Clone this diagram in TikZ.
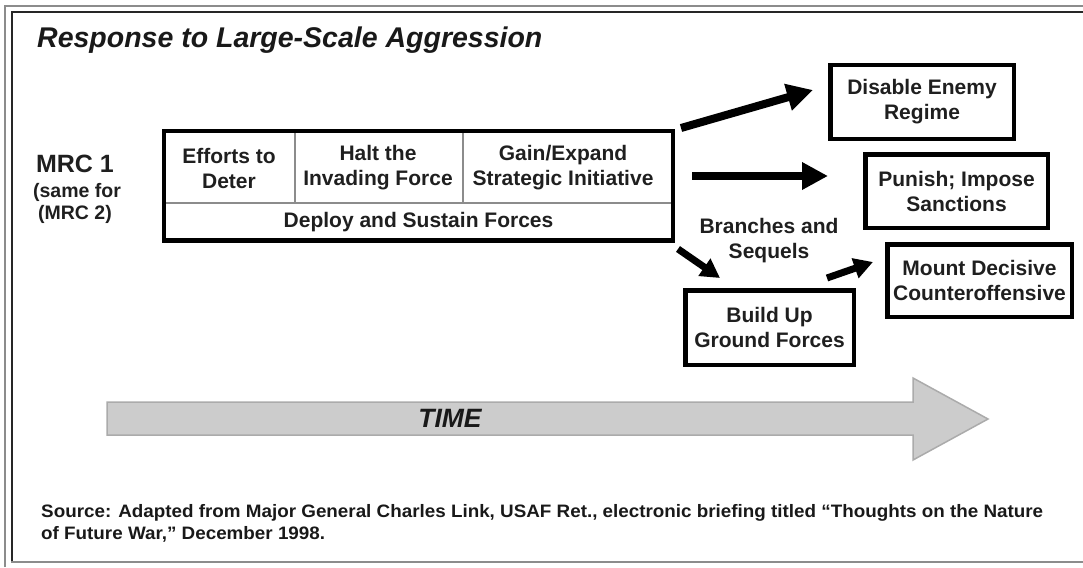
\documentclass[tikz,border=0pt]{standalone}
\usepackage{fontspec}
\setmainfont{Liberation Sans}
\usepackage{graphicx}
\usetikzlibrary{arrows.meta}
\begin{document}
\begin{tikzpicture}[x=1pt,y=-1pt,
  txt/.style={font=\fontsize{21}{25}\selectfont\bfseries, align=center, text=black!88, inner sep=0pt},
  boxnode/.style={draw=black, line width=4.5pt, inner sep=0pt, txt},
  divider/.style={draw=black!45, line width=1.6pt},
  bigarrow/.style={line width=8pt, -{Triangle[length=26pt,width=26pt]}},
  smallarrow/.style={line width=7pt, -{Triangle[length=19pt,width=20pt]}},
  framegray/.style={draw=black!45, line width=2pt},
  frameblack/.style={draw=black!85, line width=2pt}]
\useasboundingbox (0,0) rectangle (1083,567);
% frame
\draw[framegray] (5,567) -- (5,6) -- (1083,6);
\draw[frameblack] (12,562) -- (12,12.5) -- (1083,12.5);
\draw[framegray] (11,562) -- (1083,562);
% title
\node[anchor=base west, inner sep=0pt, text=black!90, font=\fontsize{28.5}{31}\selectfont\bfseries\itshape] (title) at (37,48) {Response to Large-Scale Aggression};
% MRC label
\node[anchor=base, inner sep=0pt, text=black!88, font=\fontsize{25}{28}\selectfont\bfseries] (mrcA) at (75,172) {MRC 1};
\node[anchor=base, inner sep=0pt, text=black!88, font=\fontsize{19.5}{22}\selectfont\bfseries] (mrcB) at (77,197) {(same for};
\node[anchor=base, inner sep=0pt, text=black!88, font=\fontsize{19.5}{22}\selectfont\bfseries] (mrcC) at (75,219) {(MRC 2)};
% main box
\draw[divider] (164,203) -- (673,203);
\draw[divider] (295,131) -- (295,203);
\draw[divider] (463,131) -- (463,203);
\node[draw=black, line width=4.5pt, minimum width=509pt, minimum height=109.5pt, inner sep=0pt] (main) at (418.5,185.75) {};
\node[txt] (deter) at (229,168) {Efforts to\\Deter};
\node[txt] (halt) at (378,168) {Halt the\\Invading Force};
\node[txt] (gain) at (563,168) {Gain/Expand\\Strategic Initiative};
\node[txt] (deploy) at (418.5,222) {Deploy and Sustain Forces};
% outcome boxes
\node[boxnode, minimum width=183.5pt, minimum height=73.5pt] (disable) at (922,102) {Disable Enemy\\Regime};
\node[boxnode, minimum width=182.5pt, minimum height=73.5pt] (punish) at (956.5,191) {Punish; Impose\\Sanctions};
\node[boxnode, minimum width=184.5pt, minimum height=72.5pt] (mount) at (979.5,280.5) {Mount Decisive\\Counteroffensive};
\node[boxnode, minimum width=168.5pt, minimum height=74.5pt] (build) at (769.5,327.5) {Build Up\\Ground Forces};
\node[txt] (branches) at (769,241) {Branches and\\Sequels};
% arrows
\coordinate (a1s) at (681,128);
\coordinate (a1e) at (813,90);
\coordinate (a2s) at (692,176);
\coordinate (a2e) at (828,176);
\coordinate (a3s) at (678,249);
\coordinate (a3e) at (720,278);
\coordinate (a4s) at (827,278);
\coordinate (a4e) at (873,262);
\draw[bigarrow] (a1s) -- (a1e);
\draw[bigarrow] (a2s) -- (a2e);
\draw[smallarrow] (a3s) -- (a3e);
\draw[smallarrow] (a4s) -- (a4e);
% time arrow
\draw[fill=black!20, draw=black!33, line width=1.5pt] (107,402) -- (913,402) -- (913,378) -- (988,419) -- (913,460) -- (913,435) -- (107,435) -- cycle;
\node[inner sep=0pt, text=black!90, font=\fontsize{26.5}{29}\selectfont\bfseries\itshape] (time) at (450,418.5) {TIME};
% source
\node[anchor=base west, inner sep=0pt, text=black!90] (srcA) at (41,517) {\setbox0\hbox{\fontsize{18}{21}\selectfont\bfseries Source: Adapted from Major General Charles Link, USAF Ret., electronic briefing titled ``Thoughts on the Nature}\pgfmathsetmacro\srcfac{1002/\the\wd0}\global\let\srcfacG\srcfac\scalebox{\srcfac}[1]{\box0}};
\node[anchor=base west, inner sep=0pt, text=black!90] (srcB) at (41,539) {\scalebox{\srcfacG}[1]{\fontsize{18}{21}\selectfont\bfseries of Future War,'' December 1998.}};
\end{tikzpicture}
\end{document}
